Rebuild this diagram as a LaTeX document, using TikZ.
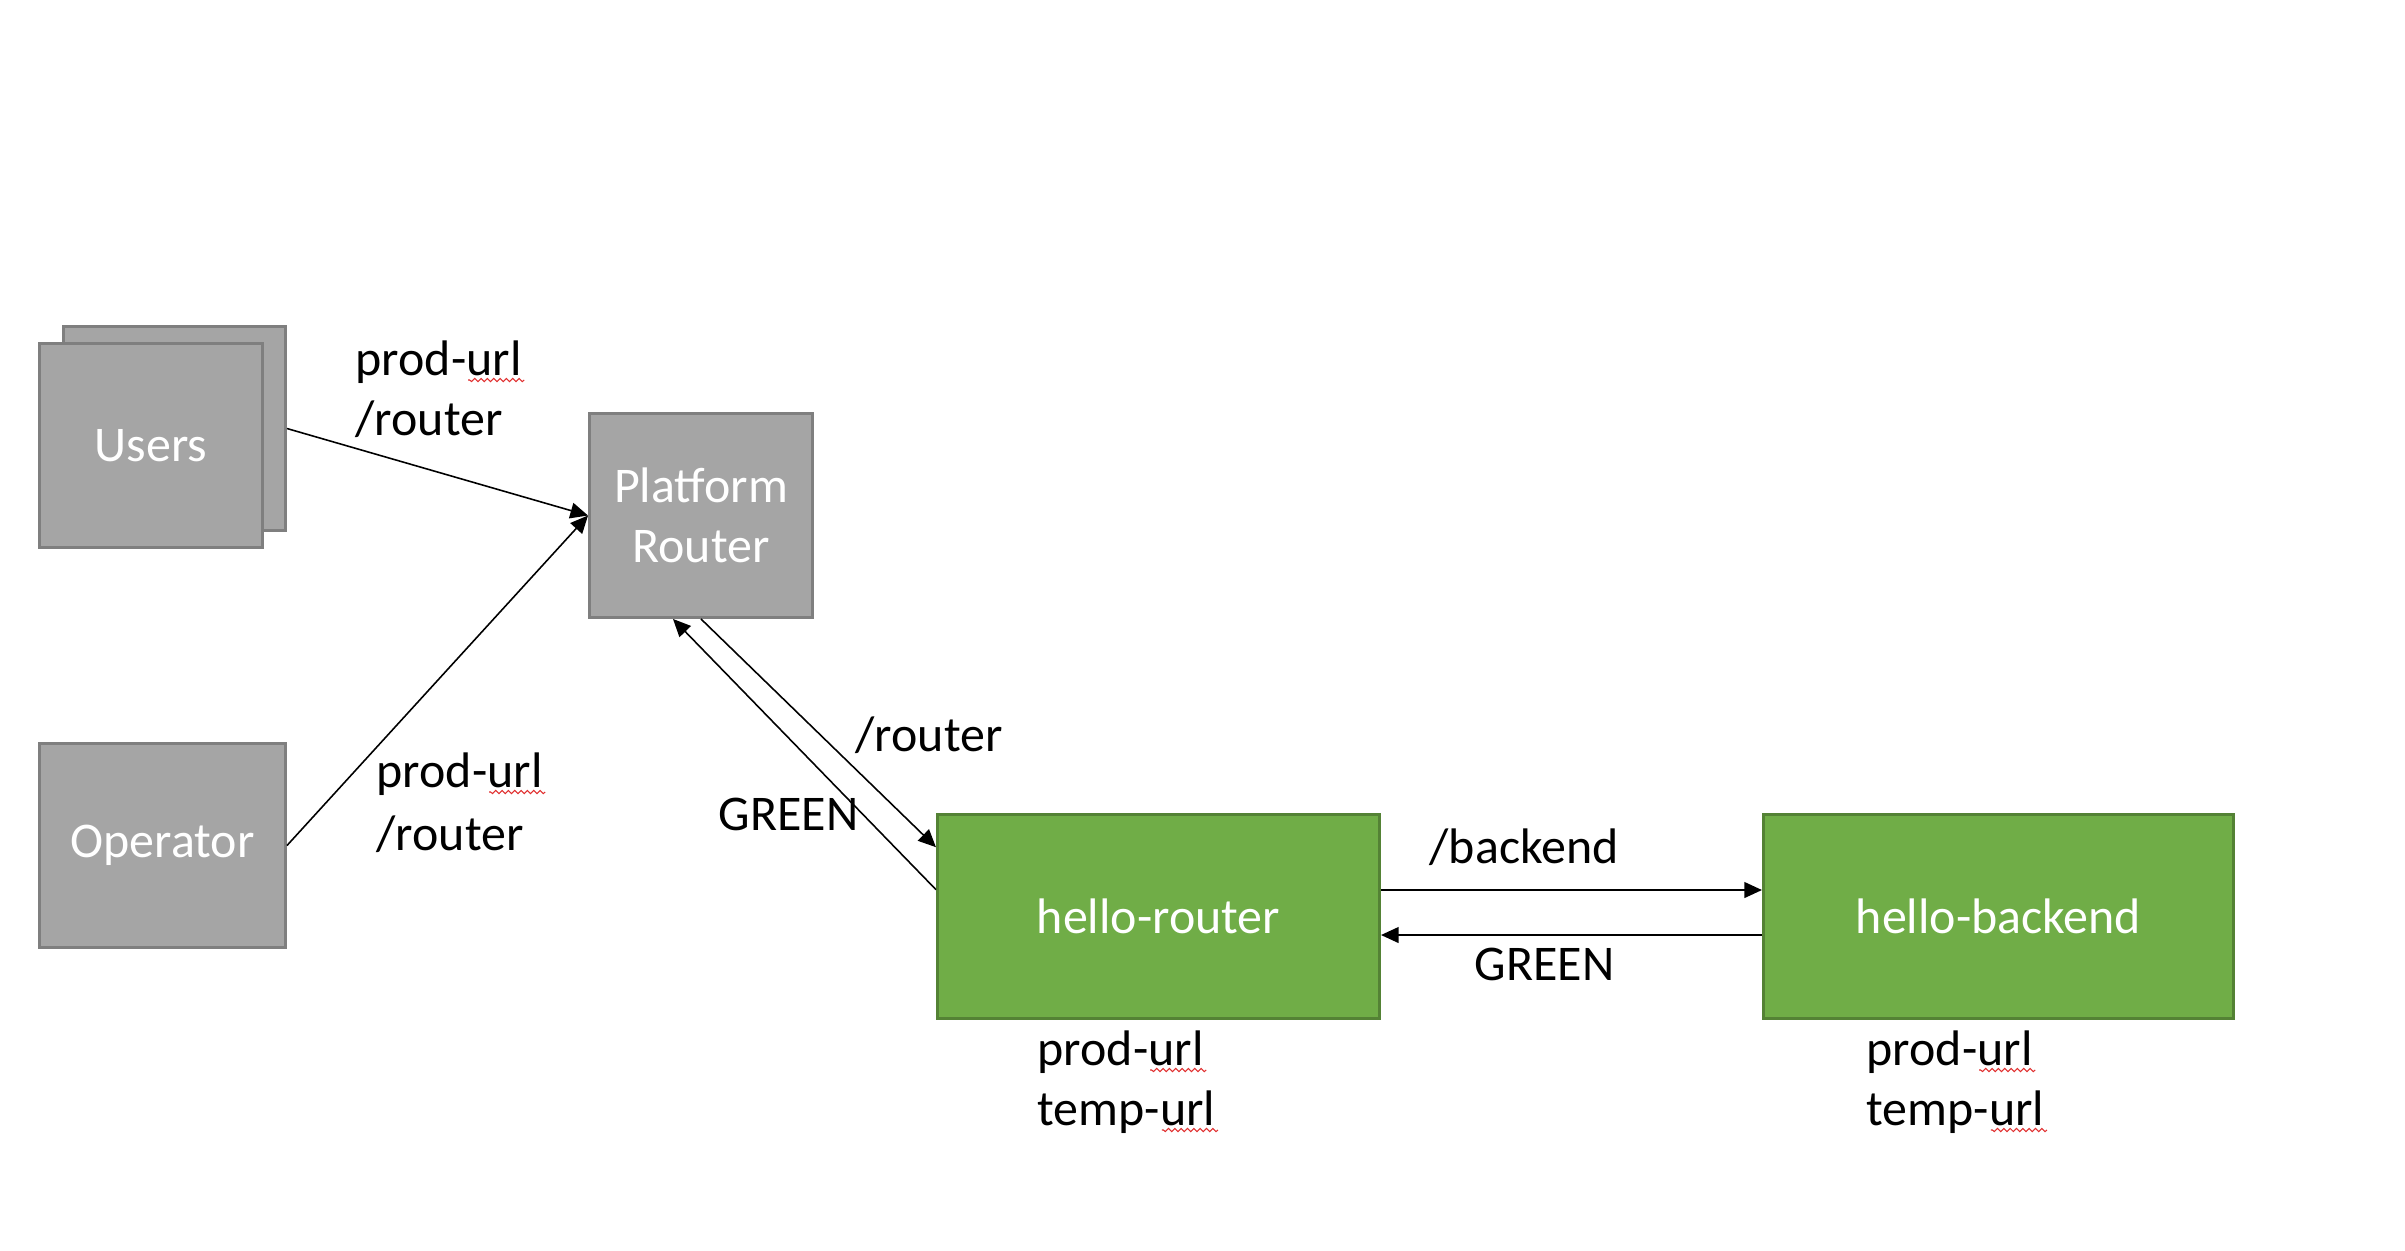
\documentclass[tikz,border=0pt]{standalone}
\usepackage{fontspec}
\setmainfont{Carlito}
\usetikzlibrary{arrows.meta,calc,decorations.pathmorphing}
\definecolor{boxgray}{HTML}{A5A5A5}
\definecolor{boxgrayline}{HTML}{7F7F7F}
\definecolor{boxgreen}{HTML}{70AD47}
\definecolor{boxgreenline}{HTML}{548235}
\definecolor{squigred}{HTML}{E03030}
\tikzset{
  txtfont/.style={font=\fontsize{14.2pt}{17pt}\selectfont},
  graybox/.style={draw=boxgrayline, fill=boxgray, line width=0.8pt, text=white, txtfont, align=center, inner sep=0pt, minimum height=2.04cm},
  greenbox/.style={draw=boxgreenline, fill=boxgreen, line width=0.8pt, text=white, txtfont, align=center, inner sep=0pt, minimum height=2.04cm},
  lbl/.style={txtfont, inner sep=0pt, anchor=base west, text=black},
  conn/.style={line width=0.45pt, draw=black, -{Triangle[length=5pt,width=4.5pt]}},
  squig/.style={draw=squigred, line width=0.3pt, decorate, decoration={snake, amplitude=0.45pt, segment length=1.8pt}}
}
\begin{document}
\begin{tikzpicture}[x=0.01cm,y=-0.01cm]
\useasboundingbox (0,0) rectangle (2405,1250);

% boxes
\node[graybox, minimum width=2.22cm] (ub) at (174.5,428.5) {};
\node[graybox, minimum width=2.23cm] (uf) at (151,445.5) {Users};
\node[graybox, minimum width=2.23cm] (pr) at (701,515.5) {Platform\\Router};
\node[graybox, minimum width=2.46cm] (op) at (162.5,845.5) {Operator};
\node[greenbox, minimum width=4.42cm] (hr) at (1158.5,916.5) {hello-router};
\node[greenbox, minimum width=4.70cm] (hb) at (1998.5,916.5) {hello-backend};

% helper coordinates
\coordinate (yb) at (0,890);
\coordinate (yg) at (0,935);

% connectors
\draw[conn] (ub.east) -- (pr.west);
\draw[conn] (op.east) -- (pr.west);
\draw[conn] (pr.south) -- ($(hr.west)!0.67!(hr.north west)$);
\draw[conn] ($(hr.west)!0.26!(hr.north west)$) -- ($(pr.south)+(-28,0)$);
\draw[conn] (hr.east |- yb) -- (hb.west |- yb);
\draw[conn] (hb.west |- yg) -- (hr.east |- yg);

% labels
\node[lbl] (l1a) at (355,375) {prod-url};
\node[lbl] (l1b) at (355,435) {/router};
\node[lbl] (l2a) at (376,787) {prod-url};
\node[lbl] (l2b) at (376,850) {/router};
\node[lbl] (l3) at (855,751) {/router};
\node[lbl] (l4) at (718,830) {GREEN};
\node[lbl] (l5) at (1429,863) {/backend};
\node[lbl] (l6) at (1474,980) {GREEN};
\node[lbl] (l7a) at (1037,1065) {prod-url};
\node[lbl] (l7b) at (1037,1125) {temp-url};
\node[lbl] (l8a) at (1866,1065) {prod-url};
\node[lbl] (l8b) at (1866,1125) {temp-url};

% spell-check underlines
\foreach \n in {l1a,l2a,l7a,l7b,l8a,l8b}{
  \draw[squig] ($(\n.base east)+(2,5)$) -- ++(-56,0);
}
\end{tikzpicture}
\end{document}
